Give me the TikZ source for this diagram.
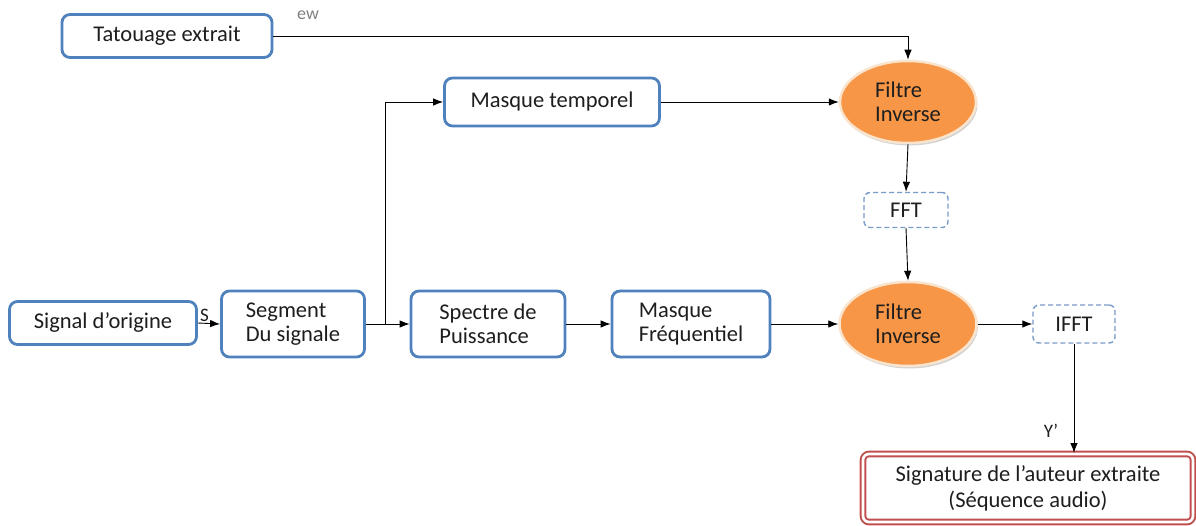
\documentclass[tikz,border=0pt]{standalone}
\usepackage{fontspec}
\setmainfont{Carlito}
\usetikzlibrary{arrows.meta,shapes.geometric,shadows}
\definecolor{boxblue}{RGB}{79,129,189}
\definecolor{dashblue}{RGB}{120,155,200}
\definecolor{fillorange}{RGB}{247,150,70}
\definecolor{ringcream}{RGB}{250,228,205}
\definecolor{sigred}{RGB}{192,80,77}
\definecolor{txt}{RGB}{30,30,30}
\tikzset{
  lbl/.style={font=\fontsize{22.5}{24}\selectfont, text=txt},
  block/.style={lbl, draw=boxblue, line width=2.8pt, rounded corners=8pt, fill=white,
    inner sep=0pt},
  blockL/.style={block, align=left},
  filtre/.style={lbl, ellipse, fill=fillorange, draw=ringcream, line width=2.5pt,
    align=left, inner sep=0pt,
    drop shadow={shadow xshift=1.5pt, shadow yshift=-2.5pt, opacity=0.35, fill=gray}},
  fftbox/.style={lbl, draw=dashblue, dash pattern=on 5pt off 3pt, line width=1.4pt,
    rounded corners=6pt, fill=white},
  sigbox/.style={draw=sigred, line width=2pt, double=white, double distance=2.6pt,
    rounded corners=6pt, fill=white, text=txt, align=center,
    font=\fontsize{22.5}{26}\selectfont},
  flow/.style={-{Latex[length=10pt,width=7.5pt]}, line width=0.9pt, black},
  tag/.style={font=\fontsize{19}{20}\selectfont, text=txt}
}
\begin{document}
\begin{tikzpicture}[x=1pt,y=-1pt]
\useasboundingbox (0,0) rectangle (1196,526);

% upper branch
\node[block, minimum width=210pt, minimum height=43pt] (tat) at (167,36) {Tatouage extrait};
\node[block, minimum width=215pt, minimum height=48pt] (mt) at (552,102) {Masque temporel};
\node[filtre, minimum width=136pt, minimum height=82pt] (f1) at (908,102) {Filtre\\Inverse};
\node[fftbox, minimum width=84pt, minimum height=35pt] (fft) at (906,210) {FFT};

% main row
\node[block, minimum width=187pt, minimum height=43pt] (orig) at (103,323) {Signal d’origine};
\node[blockL, minimum width=143pt, minimum height=66pt] (seg) at (293,324) {Segment\\Du signale};
\node[blockL, minimum width=154pt, minimum height=66pt] (spec) at (488,324) {Spectre de\\Puissance};
\node[blockL, minimum width=158pt, minimum height=66pt] (mf) at (691,324) {Masque\\Fréquentiel};
\node[filtre, minimum width=137pt, minimum height=84pt] (f2) at (908,324) {Filtre\\Inverse};
\node[fftbox, minimum width=82pt, minimum height=38pt] (ifft) at (1074,324) {IFFT};

% output
\node[sigbox, minimum width=330pt, minimum height=68pt] (sig) at (1028,488)
  {Signature de l’auteur extraite\\(Séquence audio)};

% connectors
\draw[flow] (tat.east) -| (f1.north);
\node[font=\fontsize{18}{20}\selectfont, text=gray] (ew) at (308,15) {ew};
\draw[flow] (mt.east) -- (f1.west);
\draw[flow] (f1.south) -- (fft.north);
\draw[flow] (fft.south) -- (f2.north);

\draw[flow] (orig.east) -- node[tag, above, pos=0.3, inner sep=1pt] {S} (seg.west);
\coordinate (br) at (385,324);
\draw[flow] (seg.east) -- (spec.west);
\draw[flow] (br) |- (mt.west);
\draw[flow] (spec.east) -- (mf.west);
\draw[flow] (mf.east) -- (f2.west);
\draw[flow] (f2.east) -- (ifft.west);
\draw[flow] (ifft.south) -- node[tag, pos=0.8, left=12pt] {Y’} (ifft.south |- sig.north);
\end{tikzpicture}
\end{document}
